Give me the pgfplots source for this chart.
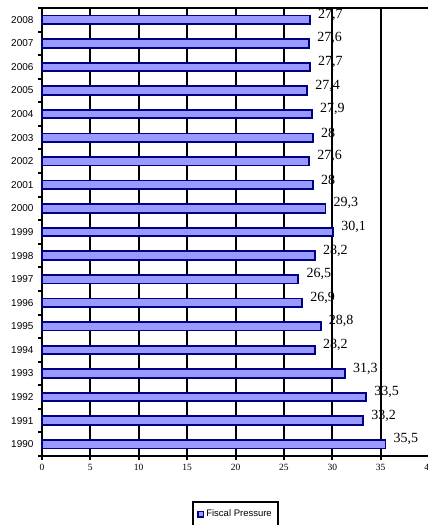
\documentclass[border=0pt]{standalone}
\usepackage{pgfplots}
\pgfplotsset{compat=1.18}
\usepackage{pgfplotstable}
\usepackage{fontspec}
\setmainfont{Liberation Serif}
\newfontfamily\arial{Liberation Sans}
\definecolor{barfill}{HTML}{9999FF}
\definecolor{barline}{HTML}{000080}

\pgfplotstableread{
year val
1990 35.5
1991 33.2
1992 33.5
1993 31.3
1994 28.2
1995 28.8
1996 26.9
1997 26.5
1998 28.2
1999 30.1
2000 29.3
2001 28
2002 27.6
2003 28
2004 27.9
2005 27.4
2006 27.7
2007 27.6
2008 27.7
}\fiscal

\begin{document}
\begin{tikzpicture}
\useasboundingbox (-42pt,-69pt) rectangle (386pt,456pt);
\clip (-42pt,-69pt) rectangle (386pt,456pt);
\begin{axis}[
    at={(0,0)}, anchor=south west,
    scale only axis, width=387pt, height=448pt,
    xmin=0, xmax=40, ymin=-0.5, ymax=18.5,
    xtick={0,5,...,40},
    ytick={0,...,18},
    yticklabels from table={\fiscal}{year},
    minor ytick={-0.5,0.5,...,18.5},
    xtick pos=lower, ytick pos=left,
    tick align=outside,
    major tick length=4pt, minor tick length=4pt,
    major y tick style={draw=none},
    tick style={black, line width=2pt},
    xmajorgrids, grid style={black, line width=2pt},
    axis line style={black, line width=2.2pt},
    /pgf/number format/assume math mode=true,
    xticklabel style={font=\fontsize{9.5}{10}\selectfont, yshift=-1pt},
    yticklabel style={font=\arial\fontsize{10}{10}\selectfont, xshift=-1pt},
    clip=false,
    xbar, bar width=8.5pt,
    nodes near coords,
    nodes near coords style={anchor=west, xshift=4pt, yshift=5pt,
        font=\fontsize{14}{14}\selectfont, /pgf/number format/use comma},
    legend style={at={(axis description cs:0.5,0)}, anchor=north, yshift=-45pt,
        draw=black, line width=1.8pt, font=\arial\fontsize{9.5}{10}\selectfont,
        inner xsep=4pt, inner ysep=6pt},
    legend image code/.code={\draw[fill=barfill, draw=barline, line width=1.5pt] (0pt,-2.8pt) rectangle (5.6pt,2.8pt);},
]
\addplot[fill=barfill, draw=barline, line width=1.8pt] table[x=val, y expr=\coordindex] {\fiscal};
\legend{Fiscal Pressure}
\end{axis}
\end{tikzpicture}
\end{document}
